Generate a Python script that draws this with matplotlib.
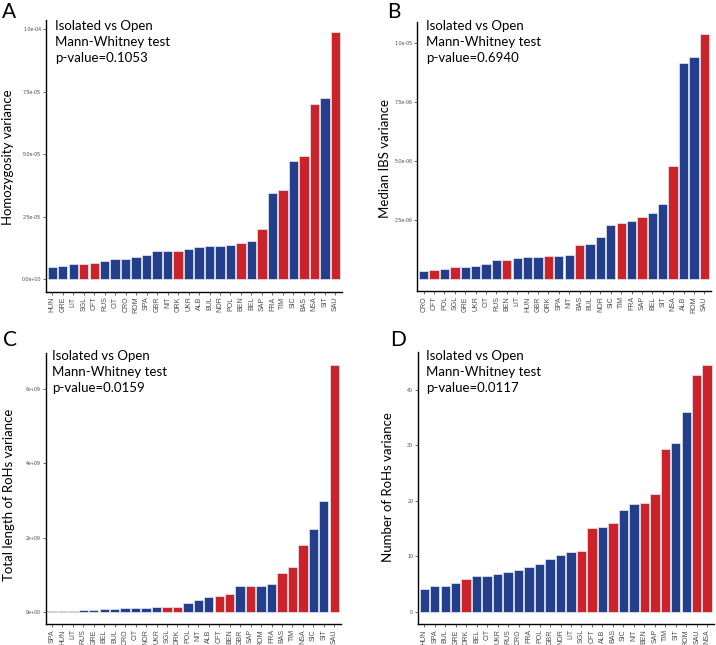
import matplotlib
matplotlib.use('Agg')
import matplotlib.pyplot as plt
import numpy as np

plt.rcParams['font.family'] = ['Lato', 'DejaVu Sans']

# isolated populations (red), all others open (blue)
isolated = ['SGL', 'CFT', 'ORK', 'BEN', 'SAP', 'TIM', 'BAS', 'NSA', 'SAU']

# A: homozygosity variance
popsA = ['HUN', 'GRE', 'LIT', 'SGL', 'CFT', 'RUS', 'CIT', 'CRO', 'ROM', 'SPA', 'GBR', 'NIT', 'ORK', 'UKR',
         'ALB', 'BUL', 'NOR', 'POL', 'BEN', 'BEL', 'SAP', 'FRA', 'TIM', 'SIC', 'BAS', 'NSA', 'SIT', 'SAU']
valsA = [0.49, 0.52, 0.60, 0.60, 0.64, 0.72, 0.80, 0.83, 0.91, 0.99, 1.13, 1.13, 1.15, 1.21,
         1.28, 1.32, 1.34, 1.38, 1.47, 1.55, 2.03, 3.44, 3.58, 4.74, 4.94, 7.02, 7.24, 9.89]  # x1e-5

# B: median IBS variance
popsB = ['CRO', 'CFT', 'POL', 'SGL', 'GRE', 'UKR', 'CIT', 'RUS', 'BEN', 'LIT', 'HUN', 'GBR', 'ORK', 'SPA',
         'NIT', 'BAS', 'BUL', 'NOR', 'SIC', 'TIM', 'FRA', 'SAP', 'BEL', 'SIT', 'NSA', 'ALB', 'ROM', 'SAU']
valsB = [0.33, 0.39, 0.44, 0.49, 0.53, 0.54, 0.65, 0.81, 0.82, 0.90, 0.94, 0.94, 0.99, 0.99,
         1.03, 1.44, 1.50, 1.78, 2.31, 2.39, 2.48, 2.62, 2.79, 3.18, 4.79, 9.15, 9.41, 10.40]  # x1e-6

# C: total length of RoHs variance
popsC = ['SPA', 'HUN', 'LIT', 'RUS', 'GRE', 'BEL', 'BUL', 'CRO', 'CIT', 'NOR', 'UKR', 'SGL', 'ORK', 'POL',
         'NIT', 'ALB', 'CFT', 'BEN', 'GBR', 'SAP', 'ROM', 'FRA', 'BAS', 'TIM', 'NSA', 'SIC', 'SIT', 'SAU']
valsC = [0.02, 0.027, 0.03, 0.06, 0.065, 0.07, 0.09, 0.10, 0.11, 0.12, 0.125, 0.13, 0.14, 0.24,
         0.33, 0.39, 0.44, 0.47, 0.69, 0.70, 0.71, 0.74, 1.05, 1.22, 1.79, 2.22, 2.98, 6.63]  # x1e9

# D: number of RoHs variance
popsD = ['HUN', 'SPA', 'BUL', 'GRE', 'ORK', 'BEL', 'CIT', 'UKR', 'RUS', 'CRO', 'FRA', 'POL', 'GBR', 'NOR',
         'LIT', 'SGL', 'CFT', 'ALB', 'BAS', 'SIC', 'NIT', 'BEN', 'SAP', 'TIM', 'SIT', 'ROM', 'SAU', 'NSA']
valsD = [4.1, 4.64, 4.76, 5.18, 5.9, 6.39, 6.5, 6.8, 7.2, 7.5, 8.1, 8.6, 9.46, 10.3,
         10.8, 11.0, 15.2, 15.35, 15.95, 18.35, 19.4, 19.7, 21.2, 29.3, 30.4, 36.0, 42.6, 44.5]

ticksA = [0, 2.5e-5, 5.0e-5, 7.5e-5, 1.0e-4]
tlabA = ['0.0e+00', '2.5e-05', '5.0e-05', '7.5e-05', '1.0e-04']
ticksB = [2.5e-6, 5.0e-6, 7.5e-6, 1.0e-5]
tlabB = ['2.5e-06', '5.0e-06', '7.5e-06', '1.0e-05']
ticksC = [0, 2e9, 4e9, 6e9]
tlabC = ['0e+00', '2e+09', '4e+09', '6e+09']
ticksD = [0, 10, 20, 30, 40]
tlabD = ['0', '10', '20', '30', '40']

pvals = ['0.1053', '0.6940', '0.0159', '0.0117']

BLUE = '#233f8c'
RED = '#cc2229'
W, H = 716, 645

fig = plt.figure(figsize=(W / 100, H / 100), dpi=100)


def px_axes(l, t, r, b):
    return fig.add_axes([l / W, 1 - b / H, (r - l) / W, (b - t) / H])


def panel(rect, pops, vals, scale, ticks, tlabs):
    ax = px_axes(*rect)
    v = np.array(vals) * scale
    x = np.arange(len(pops))
    cols = [RED if p in isolated else BLUE for p in pops]
    ax.bar(x, v, width=0.9, color=cols, edgecolor='#e6e9f2', linewidth=0.5)
    ax.set_xlim(-0.6, len(pops) - 0.4)
    ax.set_ylim(-0.05 * v.max(), 1.05 * v.max())
    ax.set_xticks(x)
    ax.set_xticklabels(pops, rotation=90, fontsize=5, color='#4d4d4d', family='Liberation Sans')
    ax.set_yticks(ticks)
    ax.set_yticklabels(tlabs, fontsize=3.8, color='#4d4d4d', family='Liberation Sans')
    ax.tick_params(length=2, width=0.5, color='#333333', pad=1.5)
    for s in ['top', 'right']:
        ax.spines[s].set_visible(False)
    for s in ['left', 'bottom']:
        ax.spines[s].set_linewidth(1.0)
    return ax


axA = panel((46, 19.6, 341.6, 291.7), popsA, valsA, 1e-5, ticksA, tlabA)
axB = panel((417.4, 21.6, 710.6, 291.3), popsB, valsB, 1e-6, ticksB, tlabB)
axC = panel((45.7, 353, 340.5, 624.3), popsC, valsC, 1e9, ticksC, tlabC)
axD = panel((418, 352.4, 713.5, 624.3), popsD, valsD, 1, ticksD, tlabD)


def ftext(x, y, s, **kw):
    fig.text(x / W, 1 - y / H, s, **kw)


# panel letters
for (x, y), s in zip([(2, 2), (387, 2), (3, 330), (390, 330)], 'ABCD'):
    ftext(x, y, s, fontsize=15, va='top', ha='left')

# test annotation
for (x, y), p in zip([(55, 20), (426, 20), (52, 350), (426, 350)], pvals):
    ftext(x, y, 'Isolated vs Open\nMann-Whitney test\np-value=' + p,
          fontsize=9.5, va='top', ha='left', linespacing=1.42)

# y axis titles
ylabels = ['Homozygosity variance', 'Median IBS variance',
           'Total length of RoHs variance', 'Number of RoHs variance']
for (x, y), s in zip([(8, 157), (385, 158), (9, 495), (388, 487)], ylabels):
    ftext(x, y, s, fontsize=9.5, rotation=90, ha='center', va='center')

plt.savefig('out.png', dpi=100)
